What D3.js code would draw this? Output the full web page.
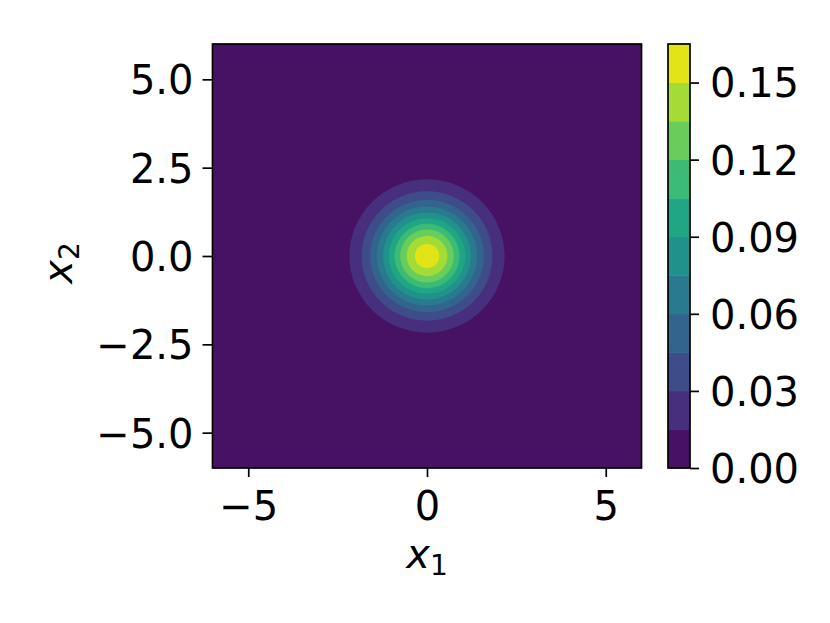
<!DOCTYPE html>
<html><head><meta charset="utf-8">
<script src="https://cdn.jsdelivr.net/npm/d3@7"></script>
<style>body{margin:0;background:#fff}svg{display:block}</style></head>
<body>
<script>
// contour levels (filled bands between consecutive levels)
const contourLevels = [0.000, 0.015, 0.030, 0.045, 0.060, 0.075, 0.090, 0.105, 0.120, 0.135, 0.150, 0.165];
// radius (data units) of the contour line at contourLevels[1..10]
const levelRadii = [2.17, 1.83, 1.59, 1.40, 1.23, 1.07, 0.91, 0.75, 0.57, 0.34];
const center = [0, 0];
const xDomain = [-6, 6];
const yDomain = [-6, 6];
const xTicks = [-5, 0, 5];
const yTicks = [-5, -2.5, 0, 2.5, 5];
const cbTicks = [0.00, 0.03, 0.06, 0.09, 0.12, 0.15];

const W = 830, H = 623;
const FONT = "DejaVu Sans, sans-serif";
const FS = 40;
const plot = {left: 212.5, right: 641.5, top: 44, bottom: 468};
const cb = {left: 668, right: 690};

const svg = d3.select("body").append("svg").attr("width", W).attr("height", H)
  .style("background", "#fff");

const x = d3.scaleLinear().domain(xDomain).range([plot.left, plot.right]);
const y = d3.scaleLinear().domain(yDomain).range([plot.bottom, plot.top]);
const nBands = contourLevels.length - 1;
const bandColor = i => d3.interpolateViridis((i + 0.5) / nBands);

// clip
svg.append("defs").append("clipPath").attr("id", "clip")
  .append("rect").attr("x", plot.left).attr("y", plot.top)
  .attr("width", plot.right - plot.left).attr("height", plot.bottom - plot.top);

const g = svg.append("g").attr("clip-path", "url(#clip)");
g.append("rect").attr("x", plot.left).attr("y", plot.top)
  .attr("width", plot.right - plot.left).attr("height", plot.bottom - plot.top)
  .attr("fill", bandColor(0));
g.selectAll("ellipse.band").data(levelRadii).join("ellipse")
  .attr("class", "band")
  .attr("cx", x(center[0])).attr("cy", y(center[1]))
  .attr("rx", r => x(center[0] + r) - x(center[0]))
  .attr("ry", r => y(center[1]) - y(center[1] + r))
  .attr("fill", (r, i) => bandColor(i + 1));

// axes
const fmtMinus = s => s.replace("-", "\u2212");
const xAxis = svg.append("g").attr("transform", `translate(0,${plot.bottom})`)
  .call(d3.axisBottom(x).tickValues(xTicks).tickSize(9).tickFormat(d => fmtMinus(d3.format("d")(d))));
const yAxis = svg.append("g").attr("transform", `translate(${plot.left},0)`)
  .call(d3.axisLeft(y).tickValues(yTicks).tickSize(10).tickFormat(d => fmtMinus(d3.format(".1f")(d))));
[xAxis, yAxis].forEach(a => {
  a.select(".domain").remove();
  a.selectAll(".tick line").attr("stroke", "#000").attr("stroke-width", 1.7);
  a.selectAll(".tick text").attr("font-family", FONT).attr("font-size", FS).attr("fill", "#000");
});
xAxis.selectAll(".tick text").attr("y", 52).attr("dy", 0);
yAxis.selectAll(".tick text").attr("x", -19).attr("dy", "0.36em");

// frame
svg.append("rect").attr("x", plot.left).attr("y", plot.top)
  .attr("width", plot.right - plot.left).attr("height", plot.bottom - plot.top)
  .attr("fill", "none").attr("stroke", "#000").attr("stroke-width", 1.7);

// axis labels
const xl = svg.append("text").attr("x", x(0)).attr("y", 568)
  .attr("text-anchor", "middle").attr("font-family", FONT).attr("font-size", FS);
xl.append("tspan").attr("font-style", "italic").text("x");
xl.append("tspan").attr("font-size", FS * 0.7).attr("dy", 7).text("1");

const yl = svg.append("text").attr("transform", `translate(72,${y(0) + 7}) rotate(-90)`)
  .attr("text-anchor", "middle").attr("font-family", FONT).attr("font-size", FS);
yl.append("tspan").attr("font-style", "italic").text("x");
yl.append("tspan").attr("font-size", FS * 0.7).attr("dy", 7).text("2");

// colorbar
const c = d3.scaleLinear().domain([contourLevels[0], contourLevels[nBands]]).range([plot.bottom, plot.top]);
const bands = d3.range(nBands);
svg.selectAll("rect.cb").data(bands).join("rect").attr("class", "cb")
  .attr("x", cb.left).attr("width", cb.right - cb.left)
  .attr("y", i => c(contourLevels[i + 1]))
  .attr("height", i => c(contourLevels[i]) - c(contourLevels[i + 1]) + 0.5)
  .attr("fill", i => bandColor(i));
svg.append("rect").attr("x", cb.left).attr("y", plot.top)
  .attr("width", cb.right - cb.left).attr("height", plot.bottom - plot.top)
  .attr("fill", "none").attr("stroke", "#000").attr("stroke-width", 1.7);
const cAxis = svg.append("g").attr("transform", `translate(${cb.right},0)`)
  .call(d3.axisRight(c).tickValues(cbTicks).tickSize(9).tickFormat(d3.format(".2f")));
cAxis.select(".domain").remove();
cAxis.selectAll(".tick line").attr("stroke", "#000").attr("stroke-width", 1.7);
cAxis.selectAll(".tick text").attr("font-family", FONT).attr("font-size", FS).attr("fill", "#000")
  .attr("x", 20).attr("dy", "0.36em");
</script>
</body></html>
